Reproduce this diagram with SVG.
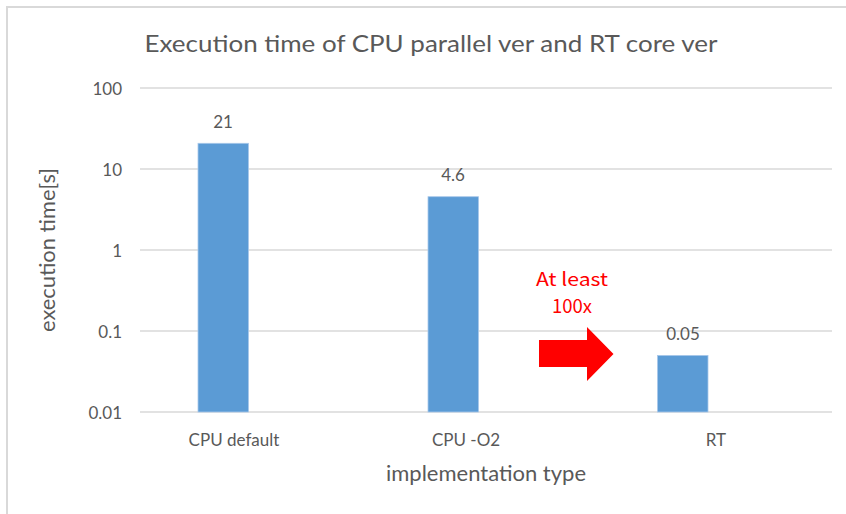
<svg xmlns="http://www.w3.org/2000/svg" width="846" height="514" viewBox="0 0 846 514">
  <style>
    .txt { font-family: Lato, "Open Sans", "Liberation Sans", sans-serif; fill: #595959; }
    .title { font-size: 23px; }
    .tick { font-size: 17px; }
    .axis-title { font-size: 21px; }
    .data { font-size: 17px; }
    .grid { stroke: #d9d9d9; stroke-width: 1.3; }
    .bar { fill: #5b9bd5; stroke: #a9c8ea; stroke-width: 0.8; }
    .note { font-family: "Noto Sans CJK JP", "Noto Sans", sans-serif; font-size: 18.5px; fill: #ff0000; }
  </style>

  <!-- chart background and frame -->
  <rect x="0" y="0" width="846" height="514" fill="#ffffff"/>
  <rect x="7" y="7" width="860" height="530" fill="#ffffff" stroke="#d9d9d9" stroke-width="2"/>

  <!-- title -->
  <text class="txt title" x="431" y="52" text-anchor="middle" textLength="573" lengthAdjust="spacingAndGlyphs">Execution time of CPU parallel ver and RT core ver</text>

  <!-- log-scale gridlines: 100, 10, 1, 0.1, 0.01 -->
  <g id="gridlines">
    <line class="grid" x1="140" y1="88" x2="832" y2="88"/>
    <line class="grid" x1="140" y1="169" x2="832" y2="169"/>
    <line class="grid" x1="140" y1="250" x2="832" y2="250"/>
    <line class="grid" x1="140" y1="331" x2="832" y2="331"/>
    <line class="grid" x1="140" y1="412" x2="832" y2="412"/>
  </g>

  <!-- y-axis tick labels -->
  <g id="y-axis" class="txt tick" text-anchor="end">
    <text x="122" y="95">100</text>
    <text x="122" y="176">10</text>
    <text x="122" y="257">1</text>
    <text x="122" y="338">0.1</text>
    <text x="122" y="419">0.01</text>
  </g>
  <text class="txt axis-title" transform="translate(55,250) rotate(-90)" text-anchor="middle" textLength="164" lengthAdjust="spacingAndGlyphs">execution time[s]</text>

  <!-- bars -->
  <g id="bar-cpu-default">
    <rect class="bar" x="198" y="143.3" width="50.5" height="268.7"/>
    <text class="txt data" x="223" y="128" text-anchor="middle">21</text>
  </g>
  <g id="bar-cpu-o2">
    <rect class="bar" x="428" y="196.7" width="50.5" height="215.3"/>
    <text class="txt data" x="453" y="181" text-anchor="middle">4.6</text>
  </g>
  <g id="bar-rt">
    <rect class="bar" x="657.5" y="355.4" width="50.5" height="56.6"/>
    <text class="txt data" x="683" y="340" text-anchor="middle">0.05</text>
  </g>

  <!-- x-axis category labels -->
  <g id="x-axis" class="txt tick" text-anchor="middle">
    <text x="234" y="446">CPU default</text>
    <text x="466" y="446">CPU -O2</text>
    <text x="716" y="446">RT</text>
  </g>
  <text class="txt axis-title" x="486" y="481" text-anchor="middle" textLength="200" lengthAdjust="spacingAndGlyphs">implementation type</text>

  <!-- speed-up annotation -->
  <g id="speedup-note">
    <text class="note" x="572" y="286" text-anchor="middle" textLength="72" lengthAdjust="spacingAndGlyphs">At least</text>
    <text class="note" x="572" y="313" text-anchor="middle">100x</text>
  </g>
  <g id="connectors">
    <polygon points="539,340 587,340 587,327 613.5,354 587,381 587,367 539,367" fill="#ff0000"/>
  </g>
</svg>
